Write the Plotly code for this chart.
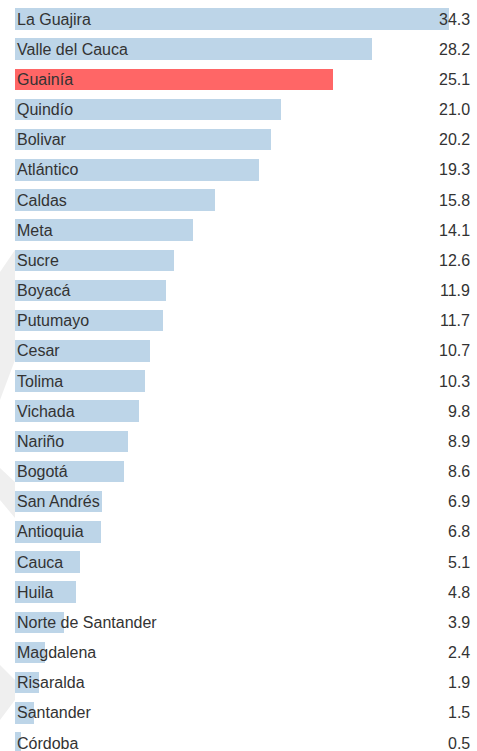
import plotly.graph_objects as go

departments = ["La Guajira", "Valle del Cauca", "Guainía", "Quindío", "Bolivar", "Atlántico",
               "Caldas", "Meta", "Sucre", "Boyacá", "Putumayo", "Cesar", "Tolima", "Vichada",
               "Nariño", "Bogotá", "San Andrés", "Antioquia", "Cauca", "Huila",
               "Norte de Santander", "Magdalena", "Risaralda", "Santander", "Córdoba"]
values = [34.3, 28.2, 25.1, 21.0, 20.2, 19.3, 15.8, 14.1, 12.6, 11.9, 11.7, 10.7, 10.3, 9.8,
          8.9, 8.6, 6.9, 6.8, 5.1, 4.8, 3.9, 2.4, 1.9, 1.5, 0.5]
highlight = "Guainía"

W, H = 477, 751
BLUE = "#bdd5e8"
RED = "#ff6666"
TXT = "#333333"
FONT = "Liberation Sans, Arial, sans-serif"

pos = list(range(len(departments)))
colors = [RED if d == highlight else BLUE for d in departments]

fig = go.Figure()
fig.add_trace(go.Bar(
    x=values, y=pos, orientation="h", width=0.71,
    marker=dict(color=colors, line=dict(width=0)),
    hoverinfo="skip", showlegend=False,
))

annotations = []
for p, d, v in zip(pos, departments, values):
    annotations.append(dict(x=0, y=p, xref="x", yref="y", text=d, showarrow=False,
                            xanchor="left", yanchor="middle", xshift=0,
                            font=dict(family=FONT, size=16, color=TXT)))
    annotations.append(dict(x=1, y=p, xref="paper", yref="y", text=f"{v:.1f}", showarrow=False,
                            xanchor="right", yanchor="middle", xshift=-5,
                            font=dict(family=FONT, size=16, color=TXT)))

# faint decorative chevrons on the left edge (pixel coords -> paper)
def pp(pts):
    s = ""
    for i, (x, y) in enumerate(pts):
        s += ("M" if i == 0 else "L") + f"{(x - 15) / 462:.5f} {1 - y / 751:.5f} "
    return s + "Z"

shape_pts = [
    [(0, 272), (15, 250), (15, 360), (0, 400)],
    [(0, 468), (15, 482), (15, 518), (0, 500)],
    [(0, 665), (15, 680), (15, 700), (0, 720)],
]
shapes = []
for pts in shape_pts:
    shapes.append(dict(type="path", xref="paper", yref="paper", layer="below",
                       path=pp(pts), fillcolor="#efefef", line=dict(width=0)))

fig.update_layout(
    width=W, height=H,
    margin=dict(l=15, r=0, t=0, b=0),
    paper_bgcolor="white", plot_bgcolor="white",
    xaxis=dict(range=[0, 462 / 12.653], visible=False, fixedrange=True),
    yaxis=dict(range=[24 + 8 / 30.17, -19 / 30.17], visible=False, fixedrange=True),
    annotations=annotations,
    shapes=shapes,
    bargap=0,
)

fig.write_html("out.html", config={"displayModeBar": False},
               post_script="document.body.style.margin='0';document.body.style.overflow='hidden';")
